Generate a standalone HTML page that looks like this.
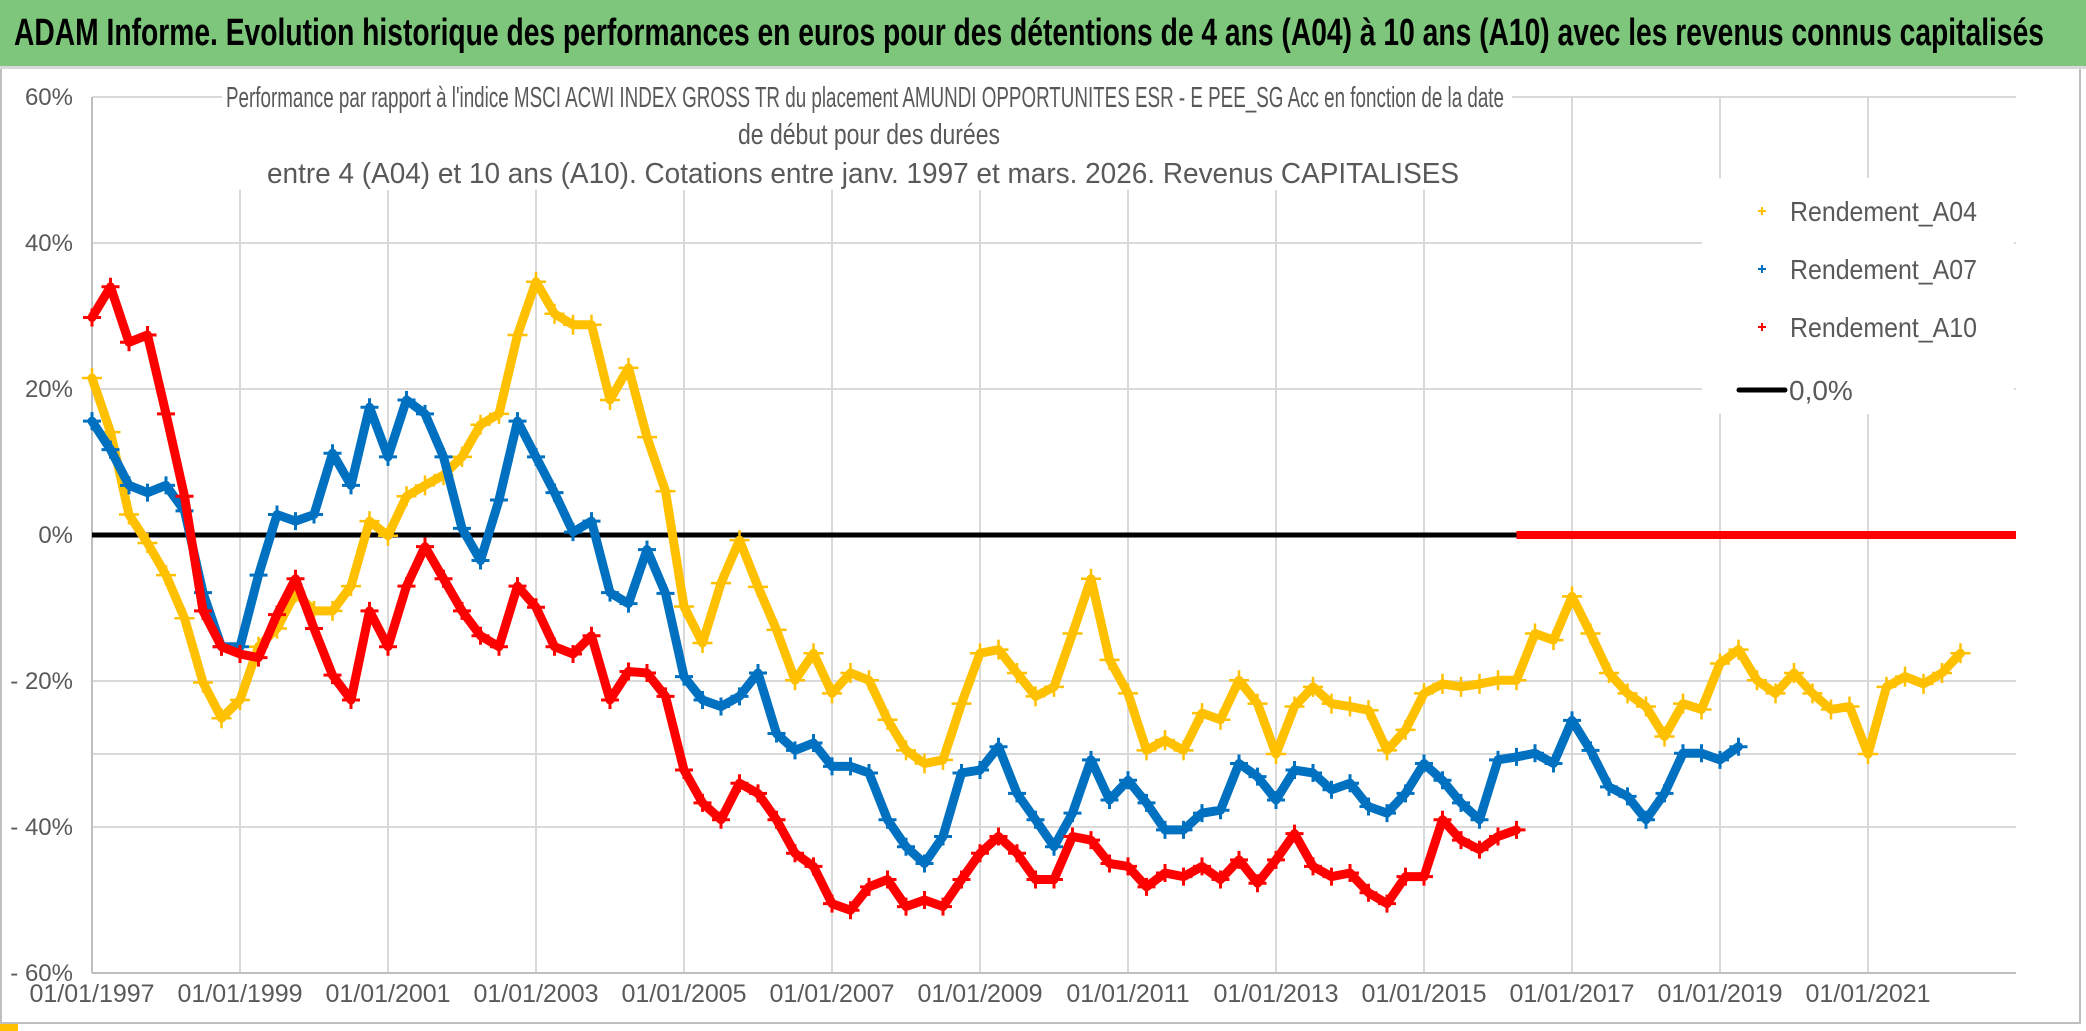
<!DOCTYPE html>
<html><head><meta charset="utf-8"><style>
html,body{margin:0;padding:0;background:#fff;}
svg{display:block;}
text{font-family:"Liberation Sans Narrow","Liberation Sans",sans-serif;}
</style></head><body>
<svg id="chart" width="2086" height="1031" viewBox="0 0 2086 1031" xmlns="http://www.w3.org/2000/svg">
<rect x="0" y="0" width="2086" height="1031" fill="#fff"/>
<rect x="1" y="1" width="2079" height="1022" fill="none" stroke="#bfbfbf" stroke-width="2"/>
<rect x="0" y="0" width="2086" height="66" fill="#7DC67B"/>
<rect x="0" y="66" width="2086" height="3" fill="#d9d9d9"/>
<text x="14" y="45" font-size="38" font-weight="bold" fill="#000" textLength="2030" lengthAdjust="spacingAndGlyphs">ADAM Informe. Evolution historique des performances en euros pour des détentions de 4 ans (A04) à 10 ans (A10) avec les revenus connus capitalisés</text>
<rect x="0" y="1024" width="18" height="7" fill="#FFC000"/>
<g id="grid"></g>
<g id="axes"></g>
<g id="series"></g>
<rect x="222" y="78" width="1290" height="112" fill="#fff"/>
<g fill="#595959" font-size="29" style="font-family:'Liberation Sans Narrow','Liberation Sans',sans-serif">
<text x="226" y="107" textLength="1278" lengthAdjust="spacingAndGlyphs">Performance par rapport à l'indice MSCI ACWI INDEX GROSS TR  du placement AMUNDI OPPORTUNITES ESR - E PEE_SG Acc en fonction de la date</text>
<text x="738" y="144" textLength="262" lengthAdjust="spacingAndGlyphs">de début pour des durées</text>
<text x="267" y="183" textLength="1192" lengthAdjust="spacingAndGlyphs">entre 4 (A04) et 10 ans (A10). Cotations entre janv. 1997 et mars. 2026. Revenus CAPITALISES</text>
</g>
<rect x="1702" y="178" width="312" height="236" fill="#fff"/>
<g id="legend"></g>
</svg>
<script>
const yTickValues = [60, 40, 20, 0, -20, -40, -60];
const yTickLabels = ['60%', '40%', '20%', '0%', '- 20%', '- 40%', '- 60%'];
const yGridValues = [60, 40, 20, -20, -30, -40];
const xTickYears = [1997, 1999, 2001, 2003, 2005, 2007, 2009, 2011, 2013, 2015, 2017, 2019, 2021];
const xTickLabels = ['01/01/1997','01/01/1999','01/01/2001','01/01/2003','01/01/2005','01/01/2007','01/01/2009','01/01/2011','01/01/2013','01/01/2015','01/01/2017','01/01/2019','01/01/2021'];
const xStart = 1997, xEnd = 2023;
const a04Start = 1997, a07Start = 1997, a10Start = 1997;
const a04Values = [21.5,14.1,2.8,-1.1,-5.5,-11.4,-20.2,-25.1,-22.6,-15.3,-12.8,-7.9,-10.4,-10.4,-7,1.9,-0.1,5.3,6.8,8.2,10.7,15.1,16.6,27.4,34.7,30.3,28.8,28.8,18.5,22.9,13.4,6,-9.8,-14.8,-6.6,-0.7,-7.1,-13,-19.9,-16.2,-21.7,-18.9,-19.9,-25.3,-29.5,-31.3,-30.8,-23.1,-16.2,-15.7,-18.9,-22.1,-20.8,-13.5,-6,-17.1,-21.7,-29.5,-28.1,-29.5,-24.4,-25.3,-19.9,-23.1,-30,-23.5,-20.8,-23.1,-23.5,-24,-29.5,-26.7,-21.7,-20.4,-20.8,-20.4,-19.9,-19.9,-13.5,-14.4,-8.4,-13.5,-18.9,-21.7,-23.5,-27.6,-23.1,-23.9,-17.6,-15.7,-19.9,-21.7,-18.9,-21.7,-23.9,-23.5,-30,-20.8,-19.4,-20.4,-18.9,-16.2];
const a07Values = [15.6,11.7,6.8,5.8,6.8,3.3,-7.9,-15.3,-15.3,-5.5,2.8,1.9,2.8,11.2,6.8,17.5,10.7,18.5,16.6,10.7,0.9,-3.5,4.8,15.6,10.7,5.8,0.4,1.9,-7.9,-9.4,-2,-8,-19.4,-22.6,-23.5,-22.1,-18.9,-27.2,-29.5,-28.5,-31.7,-31.7,-32.6,-39,-42.7,-45,-41.3,-32.6,-32.2,-29,-35.4,-39,-42.7,-38.1,-30.8,-36.3,-33.6,-36.7,-40.4,-40.4,-38.1,-37.7,-31.3,-33.1,-36.3,-32.2,-32.6,-34.9,-34,-37.2,-38.1,-35.4,-31.3,-33.6,-36.7,-39,-30.8,-30.4,-29.9,-31.3,-25.4,-29.5,-34.5,-35.8,-39,-35.4,-29.9,-29.9,-30.8,-29];
const a10Values = [29.8,34,26.4,27.4,16.6,5.3,-10.4,-15.3,-16.3,-16.8,-10.9,-6,-12.8,-19.2,-22.6,-10.4,-15.3,-7,-1.6,-6,-10.4,-13.8,-15.3,-7,-9.9,-15.3,-16.3,-13.8,-22.6,-18.7,-18.9,-22.1,-32.2,-36.7,-39,-34,-35.4,-39,-43.6,-45.4,-50.5,-51.4,-48.2,-47.2,-50.9,-50,-50.9,-47.2,-43.6,-41.3,-43.6,-47.2,-47.2,-41.3,-41.8,-45,-45.4,-48.2,-46.3,-46.8,-45.4,-47.2,-44.5,-47.7,-44.5,-40.9,-45.4,-46.8,-46.3,-49,-50.5,-46.8,-46.8,-39,-41.8,-43.1,-41.3,-40.4];
const stepYears = 0.25;

const NS = 'http://www.w3.org/2000/svg';
const plotL = 92, pxPerYear = 74, y0 = 535, pxPerPct = 7.3;
function xs(t){ return plotL + (t - xStart) * pxPerYear; }
function ys(v){ return y0 - v * pxPerPct; }
function mk(tag, attrs, parent){ const e = document.createElementNS(NS, tag); for (const k in attrs) e.setAttribute(k, attrs[k]); parent.appendChild(e); return e; }

const grid = document.getElementById('grid');
const axes = document.getElementById('axes');
const series = document.getElementById('series');
const legend = document.getElementById('legend');
const plotR = xs(xEnd);

yGridValues.forEach(v => {
  const l = mk('line', {x1: plotL, x2: plotR, y1: ys(v), y2: ys(v), stroke: '#d9d9d9', 'stroke-width': 2}, grid);
  
  
});
xTickYears.forEach((t, i) => {
  if (i === 0) return;
  const l = mk('line', {x1: xs(t), x2: xs(t), y1: ys(60), y2: ys(-60), stroke: '#d9d9d9', 'stroke-width': 2}, grid);
  
  
});
const yAxis = mk('line', {x1: plotL, x2: plotL, y1: ys(60), y2: ys(-60), stroke: '#bfbfbf', 'stroke-width': 2}, axes);


const xAxis = mk('line', {x1: plotL, x2: plotR, y1: ys(-60), y2: ys(-60), stroke: '#bfbfbf', 'stroke-width': 2}, axes);



yTickValues.forEach((v, i) => {
  const t = mk('text', {x: 73, y: ys(v) + 8, 'text-anchor': 'end', 'font-size': 24, fill: '#595959'}, axes);
  t.textContent = yTickLabels[i];
  
  
});
xTickYears.forEach((yr, i) => {
  const t = mk('text', {x: xs(yr), y: 1002, 'text-anchor': 'middle', 'font-size': 25, fill: '#595959'}, axes);
  t.textContent = xTickLabels[i];
  
  
});

const zl = mk('line', {x1: plotL, x2: plotR, y1: ys(0), y2: ys(0), stroke: '#000', 'stroke-width': 5}, series);



function plus(g, x, y, size, color, sw){
  return mk('path', {d: `M${x-size} ${y}H${x+size}M${x} ${y-size}V${y+size}`, stroke: color, 'stroke-width': sw, fill: 'none'}, g);
}
function drawSeries(vals, start, color, name, sw, size, lw){
  const g = mk('g', {}, series);
  
  
  const pts = vals.map((v, i) => [xs(start + i * stepYears), ys(v)]);
  const pl = mk('polyline', {points: pts.map(p => p.join(',')).join(' '), fill: 'none', stroke: color, 'stroke-width': lw, 'stroke-linejoin': 'round', 'stroke-linecap': 'round'}, g);
  
  
  pts.forEach(p => {
    const m = plus(g, p[0], p[1], size, color, sw);
    
    
  });
  return start + (vals.length - 1) * stepYears;
}
const endA04 = drawSeries(a04Values, a04Start, '#FFC000', 'series-a04', 2.5, 10, 9);
const endA07 = drawSeries(a07Values, a07Start, '#0070C0', 'series-a07', 3, 9, 9);
const endA10 = drawSeries(a10Values, a10Start, '#FF0000', 'series-a10', 3, 9, 9);
const zb = mk('line', {x1: xs(endA10), x2: plotR, y1: ys(0), y2: ys(0), stroke: '#FF0000', 'stroke-width': 8}, series);



const legendItems = [['Rendement_A04', '#FFC000'], ['Rendement_A07', '#0070C0'], ['Rendement_A10', '#FF0000']];
legendItems.forEach((it, i) => {
  const cy = 211 + i * 58;
  const m = plus(legend, 1762, cy, 4, it[1], 2);
  
  
  const t = mk('text', {x: 1790, y: cy + 10, 'font-size': 28, fill: '#595959', textLength: 187, lengthAdjust: 'spacingAndGlyphs'}, legend);
  t.textContent = it[0];
  
  
});
const ll = mk('line', {x1: 1739, x2: 1785, y1: 390, y2: 390, stroke: '#000', 'stroke-width': 5, 'stroke-linecap': 'round'}, legend);


const lt = mk('text', {x: 1789, y: 400, 'font-size': 28, fill: '#595959'}, legend);
lt.textContent = '0,0%';


</script>
</body></html>
